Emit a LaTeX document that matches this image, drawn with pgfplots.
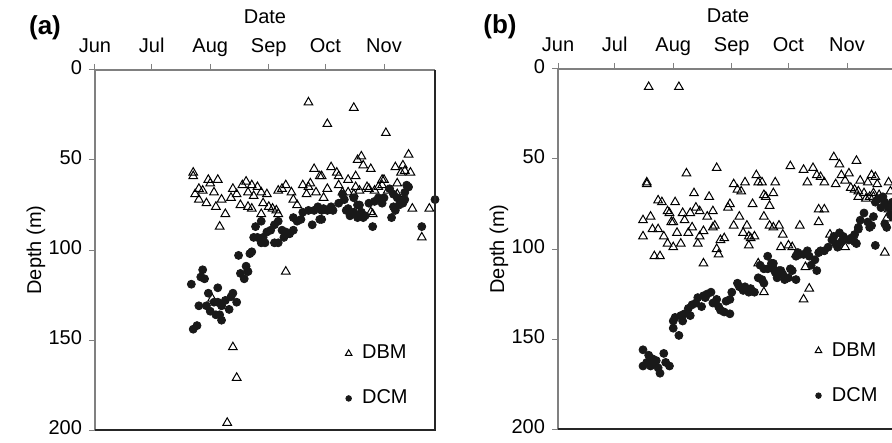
\documentclass[border=0pt]{standalone}
\usepackage{fontspec}
\setmainfont{Liberation Sans}
\usepackage{pgfplots}
\usepackage{pgfplotstable}
\pgfplotsset{compat=1.18}

% day = days since 1 June, depth in m
\pgfplotstableread{
day depth
113 18
137 21
123 30
154 35
52 57
52 59
166 47
141 48
139 50
142 53
146 55
159 54
163 53
164 56
167 57
162 57
116 55
119 59
125 54
128 57
129 59
134 61
138 59
152 61
152 64
60 61
61 63
65 61
55 66
57 67
63 68
53 69
55 72
59 74
64 76
67 72
69 80
66 87
73 66
75 69
72 71
80 62
78 64
83 64
86 65
81 68
84 70
77 75
81 76
88 68
91 69
89 74
92 76
94 77
96 78
83 77
88 80
97 80
101 64
99 66
97 67
104 68
105 72
107 75
110 64
113 65
114 63
112 69
117 68
121 71
123 66
129 64
131 68
134 68
138 65
140 67
144 65
148 67
150 65
147 80
168 77
177 77
173 93
101 112
73 154
75 171
70 196
62 127
160 63
153 61
155 67
160 69
145 66
137 69
146 79
120 59
}\dbma

\pgfplotstableread{
day depth
131 69
137 71
120 78
123 78
126 78
133 78
135 81
139 82
142 82
140 75
145 74
148 73
150 71
153 71
156 66
158 69
160 71
158 76
159 78
163 74
164 68
165 64
166 65
147 87
157 82
173 87
180 72
120 83
164 72
161 75
152 74
139 75
141 79
143 81
137 79
134 77
135 79
132 72
129 74
125 76
121 77
118 76
116 78
119 83
113 78
110 79
109 83
107 84
105 82
115 86
105 89
103 91
101 90
99 89
97 84
95 86
88 84
85 87
91 90
93 89
84 93
89 93
86 93
90 96
88 96
95 96
97 96
100 93
102 91
76 103
82 102
83 101
80 109
77 113
79 116
81 112
57 111
56 115
58 116
51 119
60 124
65 121
55 131
59 131
63 129
65 129
69 128
72 126
73 124
71 133
67 131
64 136
66 136
67 139
75 129
54 142
52 144
61 134
}\dcma

\pgfplotstableread{
day depth
48 10
64 10
47 63
47 64
68 58
84 55
123 54
130 56
135 55
146 49
149 53
158 51
137 59
139 60
132 63
141 63
147 64
150 59
154 58
152 62
160 62
166 59
168 60
164 63
169 64
155 66
157 67
159 68
162 69
159 71
163 72
167 71
175 63
176 68
93 64
95 67
97 68
99 63
105 59
106 63
108 63
115 63
72 69
80 71
62 74
53 73
55 74
91 75
90 77
103 75
109 70
114 69
112 76
138 78
141 78
49 82
58 79
59 80
66 80
70 80
73 77
75 79
79 82
82 79
96 82
109 82
45 84
61 85
45 93
50 89
53 89
56 93
58 97
61 99
65 97
63 91
67 84
71 88
69 91
74 97
75 93
77 90
82 88
83 87
54 104
51 104
77 108
86 95
88 94
84 100
85 103
93 87
98 91
101 93
100 87
102 94
101 98
104 93
106 108
109 124
112 87
114 88
117 87
119 92
118 99
122 98
124 99
126 103
128 87
131 110
133 122
130 128
138 85
144 92
152 99
173 102
174 83
175 78
60 85
110 71
170 70
165 71
167 69
}\dbmb

\pgfplotstableread{
day depth
45 156
48 159
45 165
47 163
50 161
50 164
53 166
54 169
56 158
57 163
59 165
49 165
52 162
61 144
64 148
61 140
62 138
65 137
66 140
67 136
70 137
69 133
71 131
73 130
74 127
77 126
79 125
81 124
76 132
78 127
82 130
85 132
86 134
88 135
91 136
89 129
91 128
84 128
92 124
95 119
96 121
98 123
99 121
102 122
104 124
101 124
106 116
108 117
109 119
111 104
114 108
111 111
115 113
116 116
120 117
122 116
118 112
107 109
109 111
113 108
114 111
117 112
119 114
126 117
124 112
123 111
127 102
130 103
132 101
133 104
136 106
137 112
134 109
138 102
141 101
143 99
145 95
146 93
149 91
151 93
154 95
155 94
157 96
150 96
148 99
157 92
159 88
160 84
162 80
164 85
166 87
167 82
168 98
171 77
173 74
174 88
176 81
168 74
170 72
172 71
175 77
177 74
177 82
173 86
159 89
165 88
158 97
147 97
139 101
128 103
126 104
}\dcmb

\pgfplotsset{
  depthax/.style={
    scale only axis, width=170pt, height=180pt,
    xmin=0, xmax=180, ymin=0, ymax=200, y dir=reverse,
    xtick={0,30,61,92,122,153},
    xticklabels={Jun,Jul,Aug,Sep,Oct,Nov},
    ytick={0,50,100,150,200},
    xtick pos=upper, xticklabel pos=upper, ytick pos=left,
    typeset ticklabels with strut,
    xticklabel style={yshift=-1.5pt},
    tick align=outside, major tick length=3pt,
    tick style={gray, line width=0.5pt},
    axis line style={draw=none},
    font=\fontsize{10}{12}\selectfont,
    /pgf/number format/assume math mode=true,
    xlabel=Date, ylabel={Depth (m)},
    xlabel style={at={(axis description cs:0.5,1.128)}, anchor=base},
    ylabel style={at={(axis description cs:-0.174,0.5)}, anchor=center},
    legend cell align=left,
    legend style={draw=none, fill=none, inner sep=0pt, row sep=11pt,
      nodes={inner sep=1.5pt}, font=\fontsize{10}{12}\selectfont},
    legend image code/.code={
      \draw[#1] plot coordinates {(0pt,0pt)};
      \path (-2pt,0pt) (5pt,0pt);},
    after end axis/.code={
      \draw[gray, line width=0.6pt] (axis description cs:0,0) -- (axis description cs:0,1) -- (axis description cs:1,1);
      \draw[black!85, line width=0.8pt] (axis description cs:1,1) -- (axis description cs:1,0) -- (axis description cs:0,0);
    },
  },
  dbm/.style={only marks, mark=triangle, mark size=2.5pt,
    mark options={black, line width=0.5pt},
    legend image post style={mark size=1.9pt}},
  dcm/.style={only marks, mark=*, mark size=2pt,
    mark options={draw=black!90, fill=black!90},
    legend image post style={mark size=1.4pt}},
}

\begin{document}
\begin{tikzpicture}
\path[use as bounding box] (0,0) rectangle (446pt,221.5pt);
\clip (0,0) rectangle (446pt,221.5pt);

\begin{axis}[depthax, at={(47.5pt,6.5pt)}, anchor=south west,
  legend style={at={(axis description cs:0.732,0.245)}, anchor=north west}]
\addplot[dbm] table[x=day, y=depth] {\dbma};
\addlegendentry{DBM}
\addplot[dcm] table[x=day, y=depth] {\dcma};
\addlegendentry{DCM}
\end{axis}

\begin{axis}[depthax, at={(279pt,7pt)}, anchor=south west,
  legend style={at={(axis description cs:0.752,0.25)}, anchor=north west}]
\addplot[dbm] table[x=day, y=depth] {\dbmb};
\addlegendentry{DBM}
\addplot[dcm] table[x=day, y=depth] {\dcmb};
\addlegendentry{DCM}
\end{axis}

\node[font=\bfseries\fontsize{13}{15}\selectfont] at (22.5pt,207.5pt) {(a)};
\node[font=\bfseries\fontsize{13}{15}\selectfont] at (250pt,208pt) {(b)};
\end{tikzpicture}
\end{document}
